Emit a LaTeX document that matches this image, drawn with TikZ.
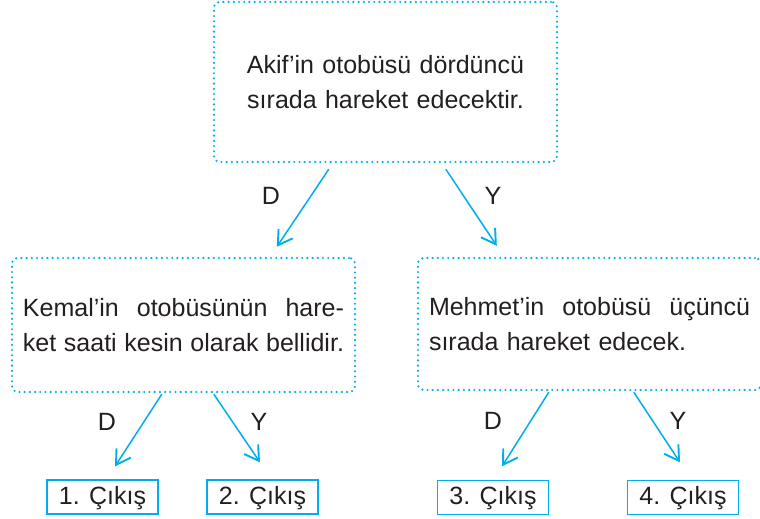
\documentclass[tikz,border=0pt]{standalone}
\usepackage{fontspec}
\setmainfont{Liberation Sans}
\usepackage{tikz}
\usetikzlibrary{positioning,arrows.meta}
\definecolor{akblue}{HTML}{00AEEF}
\definecolor{akink}{HTML}{231F20}

\begin{document}
\begin{tikzpicture}[x=1pt, y=-1pt,
    every node/.style={text=akink, font=\fontsize{25}{35}\selectfont},
    dotbox/.style={draw=akblue, line width=2.4pt, dash pattern=on 0pt off 5.2pt, line cap=round, rounded corners=6pt, minimum width=343pt, inner xsep=11pt},
    exitbox/.style={draw=akblue, line width=1.3pt, minimum width=111pt, minimum height=34pt, text height=19pt, text depth=5pt, inner sep=0pt},
    choice/.style={inner sep=0pt},
    arr/.style={akblue, line width=1.5pt, -{Straight Barb[length=14pt,width=17pt,line width=1.9pt]}}]
    \useasboundingbox (0,0) rectangle (760,519);
    \node[dotbox, minimum height=160pt, text width=280pt, align=center] (akif) at (385.5,82) {Akif’in otobüsü dördüncü\\sırada hareket edecektir.};
    \node[dotbox, minimum height=134pt, text width=321pt, align=left] (kemal) at (183.5,325) {Kemal’in\hfill otobüsünün\hfill hare-\\ket\hfill saati\hfill kesin\hfill olarak\hfill bellidir.};
    \node[dotbox, minimum height=132pt, text width=321pt, align=left] (mehmet) at (589.5,324) {Mehmet’in\hfill otobüsü\hfill üçüncü\\sırada hareket edecek.};
    \node[exitbox] (exit1) at (102.5,497) {1. Çıkış};
    \node[exitbox] (exit2) at (262.5,497) {2. Çıkış};
    \node[exitbox] (exit3) at (493,497.5) {3. Çıkış};
    \node[exitbox] (exit4) at (683,497.5) {4. Çıkış};
    \node[choice] (akifD) at (271,196) {D};
    \node[choice] (akifY) at (493,196) {Y};
    \node[choice] (kemalD) at (107,422) {D};
    \node[choice] (kemalY) at (259,422) {Y};
    \node[choice] (mehmetD) at (493,421) {D};
    \node[choice] (mehmetY) at (678,421) {Y};
    \draw[arr] ([xshift=116pt,yshift=-6pt]akif.south west) -- ([xshift=266pt,yshift=10pt]kemal.north west);
    \draw[arr] ([xshift=233pt,yshift=-6pt]akif.south west) -- ([xshift=80pt,yshift=11pt]mehmet.north west);
    \draw[arr] ([xshift=151pt,yshift=-1pt]kemal.south west) -- ([xshift=12.5pt,yshift=13pt]exit1.north);
    \draw[arr] ([xshift=203pt,yshift=-1pt]kemal.south west) -- ([xshift=-2.5pt,yshift=17pt]exit2.north);
    \draw[arr] ([xshift=132pt,yshift=-1pt]mehmet.south west) -- ([xshift=9pt,yshift=13.5pt]exit3.north);
    \draw[arr] ([xshift=217pt,yshift=-1pt]mehmet.south west) -- ([xshift=-3pt,yshift=17.5pt]exit4.north);
\end{tikzpicture}
\end{document}
